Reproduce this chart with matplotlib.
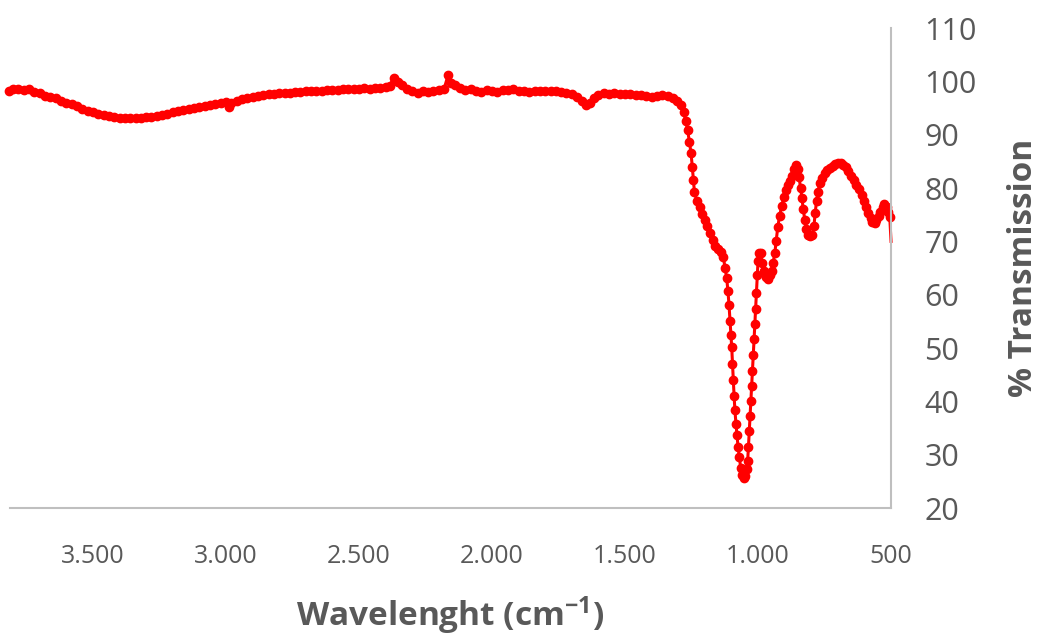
import numpy as np
import matplotlib.pyplot as plt

plt.rcParams['mathtext.default'] = 'regular'

# wavenumber (cm-1) and % transmission
WAVE = [3815, 3800, 3780, 3760, 3740, 3720, 3700, 3680, 3660, 3640, 3620, 3600,
        3580, 3560, 3540, 3520, 3500, 3480, 3460, 3440, 3420, 3400, 3380, 3360,
        3340, 3320, 3300, 3280, 3260, 3240, 3220, 3200, 3180, 3160, 3140, 3120,
        3100, 3080, 3060, 3040, 3020, 3000, 2990, 2980, 2960, 2940, 2920, 2900,
        2880, 2860, 2840, 2820, 2800, 2780, 2760, 2740, 2720, 2700, 2680, 2660,
        2640, 2620, 2600, 2580, 2560, 2540, 2520, 2500, 2480, 2460, 2440, 2420,
        2400, 2385, 2370, 2355, 2340, 2320, 2300, 2280, 2260, 2240, 2220, 2200,
        2180, 2165, 2155, 2140, 2120, 2100, 2080, 2060, 2040, 2020, 2000, 1980,
        1960, 1940, 1920, 1900, 1880, 1860, 1840, 1820, 1800, 1780, 1760, 1740,
        1720, 1700, 1680, 1660, 1645, 1630, 1615, 1600, 1580, 1560, 1540, 1520,
        1500, 1480, 1460, 1440, 1420, 1400, 1380, 1360, 1340, 1320, 1305, 1290,
        1280, 1272, 1265, 1258, 1252, 1247, 1243, 1239, 1230, 1220, 1210, 1200,
        1190, 1180, 1170, 1160, 1150, 1140, 1130, 1124, 1118, 1113, 1109, 1105,
        1102, 1099, 1096, 1093, 1090, 1087, 1083, 1079, 1075, 1070, 1065, 1060,
        1054, 1048, 1043, 1039, 1036, 1033, 1030, 1027, 1024, 1021, 1018, 1015,
        1012, 1009, 1006, 1003, 1000, 996, 990, 984, 978, 970, 963, 956,
        949, 943, 937, 932, 926, 919, 911, 903, 895, 887, 880, 873,
        865, 858, 851, 846, 840, 835, 830, 824, 818, 811, 804, 797,
        790, 785, 780, 775, 768, 760, 750, 740, 730, 720, 710, 700,
        690, 680, 670, 660, 650, 640, 630, 620, 610, 600, 593, 585,
        577, 570, 562, 555, 547, 540, 532, 525, 517, 510, 505, 500]

TRANS = [98.2, 98.5, 98.6, 98.3, 98.5, 98.0, 97.8, 97.3, 97.0, 96.8, 96.4, 96.0,
         95.7, 95.3, 94.9, 94.5, 94.2, 93.9, 93.7, 93.5, 93.3, 93.2, 93.2, 93.1,
         93.2, 93.2, 93.3, 93.4, 93.5, 93.7, 93.9, 94.2, 94.4, 94.6, 94.8, 95.0,
         95.2, 95.4, 95.6, 95.8, 95.9, 96.1, 95.2, 96.0, 96.3, 96.6, 96.8, 97.1,
         97.3, 97.5, 97.6, 97.7, 97.8, 97.8, 97.9, 98.0, 98.0, 98.1, 98.1, 98.2,
         98.2, 98.3, 98.4, 98.4, 98.5, 98.6, 98.6, 98.6, 98.7, 98.6, 98.8, 98.7,
         98.9, 99.2, 100.6, 99.8, 99.3, 98.6, 98.1, 97.8, 98.1, 98.0, 98.2, 98.3,
         98.6, 101.2, 99.6, 99.3, 98.7, 98.4, 98.6, 98.2, 98.0, 98.3, 98.1, 98.0,
         98.4, 98.3, 98.5, 98.2, 98.1, 98.0, 98.1, 98.2, 98.1, 98.2, 98.1, 98.0,
         97.9, 97.6, 97.1, 96.4, 95.6, 95.9, 96.9, 97.5, 97.8, 97.7, 97.8, 97.7,
         97.6, 97.6, 97.4, 97.5, 97.2, 97.0, 97.2, 97.4, 97.3, 96.9, 96.3, 95.5,
         94.3, 92.6, 90.9, 88.7, 86.6, 83.9, 81.5, 79.2, 77.6, 76.4, 75.2, 74.0,
         72.9, 71.5, 70.2, 69.2, 68.6, 68.0, 67.0, 65.0, 63.2, 60.6, 58.0, 55.0,
         52.5, 50.2, 47.0, 44.0, 41.0, 38.4, 35.8, 33.6, 31.4, 29.5, 27.5, 26.2,
         25.6, 26.0, 27.3, 28.9, 31.5, 34.5, 37.2, 40.0, 42.8, 45.6, 48.6, 51.6,
         54.5, 57.4, 60.4, 63.6, 66.3, 67.9, 67.8, 66.0, 64.4, 63.3, 63.0, 63.6,
         64.4, 66.0, 67.8, 70.0, 72.6, 74.8, 76.6, 78.3, 79.6, 80.6, 81.4, 82.3,
         83.5, 84.3, 83.5, 82.1, 80.0, 78.1, 76.0, 74.0, 72.3, 71.2, 71.0, 71.2,
         72.8, 75.4, 77.6, 79.2, 80.9, 81.8, 82.8, 83.4, 83.8, 84.2, 84.5, 84.6,
         84.6, 84.3, 83.9, 83.2, 82.3, 81.5, 80.6, 79.8, 78.7, 77.6, 76.4, 75.3,
         74.4, 73.6, 73.5, 74.0, 74.8, 75.5, 76.5, 77.0, 76.5, 75.5, 74.6, 70.0]

XTICKS = [3500, 3000, 2500, 2000, 1500, 1000, 500]
XLABELS = ['3.500', '3.000', '2.500', '2.000', '1.500', '1.000', '500']
YTICKS = [20, 30, 40, 50, 60, 70, 80, 90, 100, 110]

GRAY = '#595959'
FONT = ['Open Sans', 'DejaVu Sans']

fig = plt.figure(figsize=(10.39, 6.37), dpi=100)
ax = fig.add_axes([0.0096, 0.2025, 0.848, 0.7535])

# last reading is just a thin tail, no dot on it
ax.plot(WAVE, TRANS, color='red', lw=2.2, marker='o', ms=6, mec='red', mfc='red',
        markevery=slice(0, len(WAVE) - 1), clip_on=False)

ax.set_xlim(3812, 500)
ax.set_ylim(20, 110)

ax.set_xticks(XTICKS)
ax.set_xticklabels(XLABELS, family=FONT, fontsize=18, color=GRAY)
ax.set_yticks(YTICKS)
ax.set_yticklabels([str(v) for v in YTICKS], family=FONT, fontsize=22, color=GRAY)
ax.yaxis.tick_right()
ax.yaxis.set_label_position('right')
ax.tick_params(axis='x', length=0, pad=26)
ax.tick_params(axis='y', length=0, pad=24)

for s in ['top', 'left']:
    ax.spines[s].set_visible(False)
for s in ['bottom', 'right']:
    ax.spines[s].set_color('#BFBFBF')
    ax.spines[s].set_linewidth(1.5)

ax.set_xlabel('Wavelenght (cm$^{-1}$)', fontsize=24, fontweight='bold',
              color=GRAY, family=FONT, labelpad=18)
ax.set_ylabel('% Transmission', fontsize=24, fontweight='bold', color=GRAY,
              family=FONT, labelpad=22)

fig.savefig('out.png', dpi=100)
